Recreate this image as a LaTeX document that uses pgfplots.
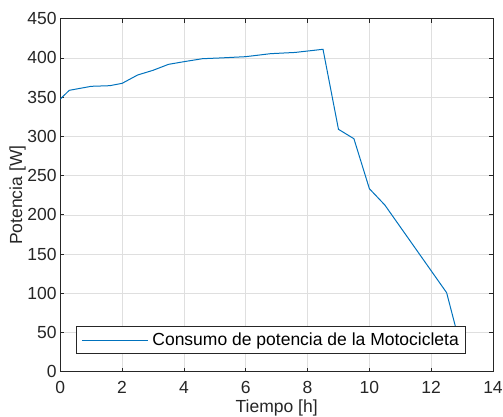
\documentclass[border=0pt]{standalone}
\usepackage{fontspec}
\setmainfont{Liberation Sans}
\usepackage{pgfplots}
\pgfplotsset{compat=1.18}
\definecolor{mblue}{RGB}{0,114,189}
\definecolor{maxis}{RGB}{38,38,38}
\definecolor{mgrid}{RGB}{223,223,223}
\begin{document}
\begin{tikzpicture}
\begin{axis}[
 scale only axis, width=432.7bp, height=353bp,
 at={(0,0)}, anchor=south west,
 xmin=0, xmax=14, ymin=0, ymax=450,
 xtick={0,2,...,14}, ytick={0,50,...,450},
 grid=major, major grid style={mgrid, line width=0.6bp},
 axis line style={maxis, line width=0.8bp},
 tick style={maxis, line width=0.8bp},
 tick align=inside, major tick length=4bp,
 /pgf/number format/assume math mode=true,
 every tick label/.append style={font=\fontsize{17.5bp}{20bp}\selectfont, text=maxis, inner sep=0pt},
 xticklabel style={yshift=-9.5bp},
 yticklabel style={xshift=-3.6bp},
 xlabel={Tiempo [h]}, ylabel={Potencia [W]},
 every axis x label/.style={at={(axis description cs:0.5,-0.0802)}, anchor=north, inner sep=0pt, font=\fontsize{17.5bp}{20bp}\selectfont, text=maxis},
 every axis y label/.style={at={(axis description cs:-0.1179,0.5)}, rotate=90, anchor=north, inner sep=0pt, font=\fontsize{17.5bp}{20bp}\selectfont, text=maxis},
 legend style={at={(0.0363,0.05)}, anchor=south west, draw=maxis, line width=0.8bp, fill=white,
   font=\fontsize{17.5bp}{20bp}\selectfont, inner xsep=5bp, inner ysep=4.3bp,
   nodes={inner sep=2bp, text depth=0.2em}},
 legend image code/.code={\draw[#1] (0bp,0bp) -- (66bp,0bp); \path (68bp,0bp);},
]
\addplot[mblue, line width=1bp] coordinates {
 (0,347.6) (0.29,358.7) (1.0,363.8) (1.6,364.6) (2.0,367.6) (2.5,378.2)
 (3.0,384.2) (3.5,391.8) (4.0,395.2) (4.6,399) (5.2,400) (6.0,401.6)
 (6.8,405.4) (7.6,407) (8.5,411) (9.0,309) (9.5,297) (10.0,233.3)
 (10.5,212.5) (12.5,100.7) (12.9,40)
};
\addlegendentry{Consumo de potencia de la Motocicleta}
\end{axis}
\pgfresetboundingbox
\useasboundingbox (-60.3bp,-45.3bp) rectangle (442.7bp,371.7bp);
\end{tikzpicture}
\end{document}
